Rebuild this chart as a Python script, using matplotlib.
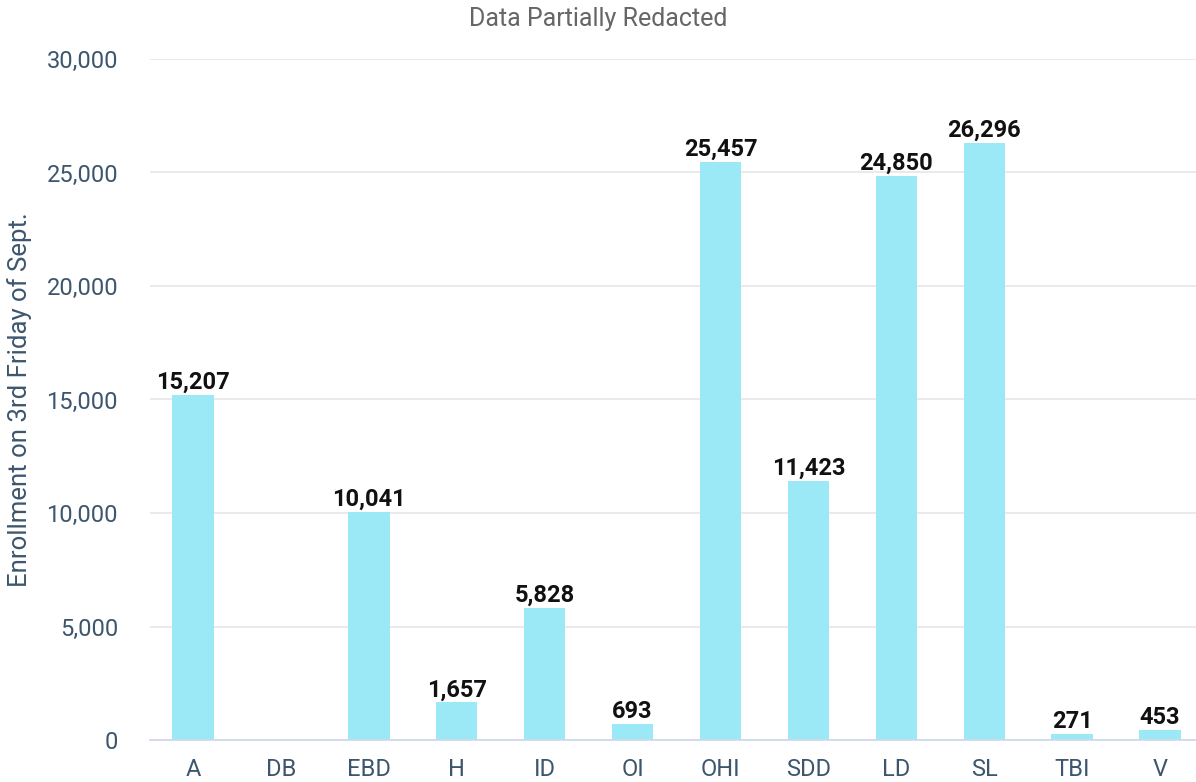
import numpy as np
import matplotlib.pyplot as plt
from matplotlib.ticker import FuncFormatter

plt.rcParams['font.family'] = ['Roboto', 'DejaVu Sans']

# categories and enrollment (DB redacted)
categories = ['A', 'DB', 'EBD', 'H', 'ID', 'OI', 'OHI', 'SDD', 'LD', 'SL', 'TBI', 'V']
enrollment = [15207, None, 10041, 1657, 5828, 693, 25457, 11423, 24850, 26296, 271, 453]

fig = plt.figure(figsize=(11.96, 7.82), dpi=100)
ax = fig.add_axes([150 / 1196, 1 - 740 / 782, 1 - 150 / 1196, (740 - 59) / 782])

x = np.arange(len(categories))
vals = np.array([np.nan if v is None else v for v in enrollment], dtype=float)
ax.bar(x, np.nan_to_num(vals), width=0.47, color='#9be9f7', zorder=2)

for xi, v in zip(x, enrollment):
    if v is None:
        continue
    ax.text(xi, v + 40, f'{v:,}', ha='center', va='bottom', fontsize=17,
            fontweight='bold', color='#111111')

ax.set_xlim(-0.49, 11.41)
ax.set_ylim(0, 30000)
ax.set_yticks(np.arange(0, 30001, 5000))
ax.yaxis.set_major_formatter(FuncFormatter(lambda v, p: f'{int(v):,}'))
ax.set_xticks(x)
ax.set_xticklabels(categories)

ax.grid(axis='y', color='#e6e6e6', linewidth=1.2, zorder=0)
for s in ['top', 'right', 'left']:
    ax.spines[s].set_visible(False)
ax.spines['bottom'].set_color('#ccd6eb')
ax.spines['bottom'].set_linewidth(1.2)
ax.spines['bottom'].set_zorder(3)
ax.tick_params(axis='both', length=0, labelsize=17, colors='#3d566e')
ax.tick_params(axis='y', pad=23)
ax.tick_params(axis='x', pad=13)

ax.set_ylabel('Enrollment on 3rd Friday of Sept.', fontsize=18.5, color='#3d566e')
ax.yaxis.set_label_coords(-118 / 1046, 0.5)
fig.text(0.5, 1 - 19 / 782, 'Data Partially Redacted', ha='center', va='center',
         fontsize=18, color='#666666')

fig.savefig('out.png', dpi=100)
